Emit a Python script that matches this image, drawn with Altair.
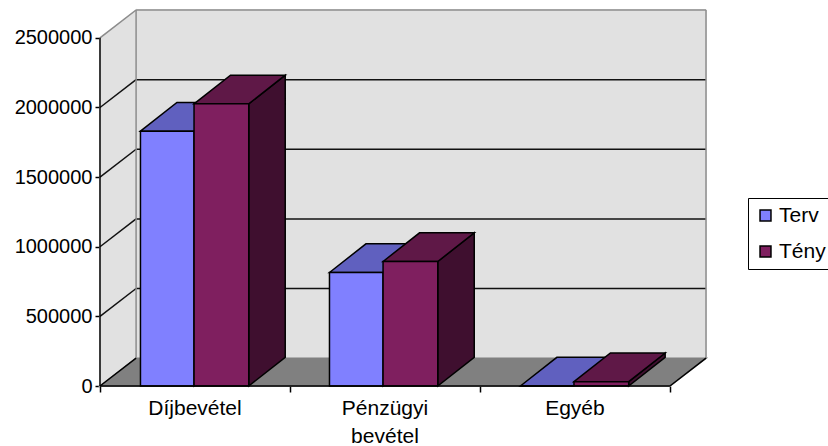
import altair as alt
import pandas as pd

# Chart values
CATEGORIES = ["Díjbevétel", "Pénzügyi\nbevétel", "Egyéb"]
SERIES = ["Terv", "Tény"]
TERV = [1830000, 815000, 0]
TENY = [2026000, 894000, 31000]
Y_TICKS = [0, 500000, 1000000, 1500000, 2000000, 2500000]

# Oblique projection offsets, in axis units
DEPTH_X = 0.19
DEPTH_V = 200000
BAR_DEPTH_X = 0.192
BAR_DEPTH_V = 206000
Y_MAX = 2500000
N = len(CATEGORIES)
BAR_WIDTH = {"Terv": 0.282, "Tény": 0.288}
BAR_MID = [0.495, 1.49, 2.495]

FRONT = {"Terv": "#8080FF", "Tény": "#7F1F5F"}
TOP = {"Terv": "#6060BF", "Tény": "#5F1847"}
SIDE = {"Terv": "#40407F", "Tény": "#3F0F2F"}
WALL = "#E1E1E1"
FLOOR = "#808080"
EDGE = "#8C8C8C"

faces, fronts, segments = [], [], []


def add_face(name, fill, stroke, pts):
    for x, top, bottom in pts:
        faces.append(dict(face=name, x=x, top=top, bottom=bottom, fill=fill, edge=stroke))


def add_segment(name, color, x0, y0, x1, y1):
    segments.append(dict(seg=name, x=x0, y=y0, stroke=color))
    segments.append(dict(seg=name, x=x1, y=y1, stroke=color))


# Box walls and floor
add_face("a_left", WALL, WALL, [(0, Y_MAX, 0), (DEPTH_X, Y_MAX + DEPTH_V, DEPTH_V)])
add_face("b_back", WALL, WALL, [(DEPTH_X, Y_MAX + DEPTH_V, DEPTH_V), (N + DEPTH_X, Y_MAX + DEPTH_V, DEPTH_V)])
add_face("c_floor", FLOOR, FLOOR, [(0, 0, 0), (DEPTH_X, DEPTH_V, 0), (N, DEPTH_V, 0), (N + DEPTH_X, DEPTH_V, DEPTH_V)])

# Bars: top and side faces here, front faces go to the rect layer
idx = 0
for i, mid in enumerate(BAR_MID):
    for name, vals, x0 in (("Terv", TERV, mid - BAR_WIDTH["Terv"]), ("Tény", TENY, mid)):
        x1 = x0 + BAR_WIDTH[name]
        v = vals[i]
        idx += 1
        key = f"d{idx:02d}"
        add_face(key + "_side", SIDE[name], "black",
                 [(x1, v, 0), (x1 + BAR_DEPTH_X, v + BAR_DEPTH_V, BAR_DEPTH_V)])
        add_face(key + "_top", TOP[name], "black",
                 [(x0, v, v), (x0 + BAR_DEPTH_X, v + BAR_DEPTH_V, v),
                  (x1, v + BAR_DEPTH_V, v), (x1 + BAR_DEPTH_X, v + BAR_DEPTH_V, v + BAR_DEPTH_V)])
        fronts.append(dict(series=name, x=x0, x2=x1, y=0, y2=v))

# Grid lines on the left and back walls
for t in Y_TICKS[1:-1]:
    add_segment(f"g{t}l", "#111111", 0, t, DEPTH_X, t + DEPTH_V)
    add_segment(f"g{t}b", "#111111", DEPTH_X, t + DEPTH_V, N + DEPTH_X, t + DEPTH_V)

# Box edges
add_segment("e1", EDGE, 0, Y_MAX, DEPTH_X, Y_MAX + DEPTH_V)
add_segment("e2", EDGE, DEPTH_X, Y_MAX + DEPTH_V, N + DEPTH_X, Y_MAX + DEPTH_V)
add_segment("e3", EDGE, DEPTH_X, DEPTH_V, DEPTH_X, Y_MAX + DEPTH_V)
add_segment("e4", EDGE, N + DEPTH_X, DEPTH_V, N + DEPTH_X, Y_MAX + DEPTH_V)

# Front axis lines and floor edges
axis_lines = []
for name, x0, y0, x1, y1 in [("a1", 0, 0, 0, Y_MAX), ("a2", 0, 0, N, 0),
                             ("a3", N, 0, N + DEPTH_X, DEPTH_V), ("a4", 0, 0, DEPTH_X, DEPTH_V)]:
    axis_lines += [dict(seg=name, x=x0, y=y0), dict(seg=name, x=x1, y=y1)]

labels = [dict(x=i + 0.5, text=c.split("\n")) for i, c in enumerate(CATEGORIES)]

faces_df = pd.DataFrame(faces)
fronts_df = pd.DataFrame(fronts)
seg_df = pd.DataFrame(segments)
axis_df = pd.DataFrame(axis_lines)
labels_df = pd.DataFrame(labels)

FONT = "Liberation Sans"
PX_PER_UNIT = 190
WIDTH = int((N + DEPTH_X) * PX_PER_UNIT)
HEIGHT = 376

x_scale = alt.Scale(domain=[0, N + DEPTH_X], nice=False, zero=False)
y_scale = alt.Scale(domain=[0, Y_MAX + DEPTH_V], nice=False)

x_axis = alt.Axis(values=list(range(N + 1)), labels=False, grid=False, domain=False,
                  tickSize=6, tickColor="black", tickWidth=1.5, title=None)
y_axis = alt.Axis(values=Y_TICKS, grid=False, domain=False, tickSize=5, tickColor="black", tickWidth=1.5,
                  labelFont=FONT, labelFontSize=20, labelColor="black", labelPadding=3, format="d", title=None)


def X():
    return alt.X("x:Q", scale=x_scale, axis=x_axis)


def Y(field):
    return alt.Y(field, scale=y_scale, axis=y_axis)


faces_layer = alt.Chart(faces_df).mark_area(orient="vertical", strokeWidth=1.5, strokeJoin="miter").encode(
    x=X(),
    y=Y("top:Q"),
    y2="bottom:Q",
    detail="face:N",
    fill=alt.Fill("fill:N", scale=None),
    stroke=alt.Stroke("edge:N", scale=None),
)

grid_layer = alt.Chart(seg_df).mark_line(strokeWidth=1.5).encode(
    x=X(),
    y=Y("y:Q"),
    detail="seg:N",
    stroke=alt.Stroke("stroke:N", scale=None),
)

# Background and floor are drawn first, then grid, then the bar faces
back_layer = faces_layer.transform_filter("indexof(['a_left','b_back','c_floor'], datum.face) >= 0")
bars_layer = faces_layer.transform_filter("indexof(['a_left','b_back','c_floor'], datum.face) < 0")

front_layer = alt.Chart(fronts_df).mark_rect(stroke="black", strokeWidth=1.5).encode(
    x=X(),
    x2="x2:Q",
    y=Y("y:Q"),
    y2="y2:Q",
    color=alt.Color("series:N",
                    scale=alt.Scale(domain=SERIES, range=[FRONT[s] for s in SERIES]),
                    legend=alt.Legend(title=None, orient="none", legendX=648, legendY=188,
                                      symbolType="square", symbolSize=120,
                                      symbolStrokeColor="black", symbolStrokeWidth=1.5,
                                      labelFont=FONT, labelFontSize=21, labelColor="black",
                                      labelOffset=3, rowPadding=14, padding=7,
                                      strokeColor="black", fillColor="white")),
)

axis_layer = alt.Chart(axis_df).mark_line(color="black", strokeWidth=1.5).encode(
    x=X(),
    y=Y("y:Q"),
    detail="seg:N",
)

label_layer = alt.Chart(labels_df).mark_text(
    font=FONT, fontSize=21, color="black", baseline="top", lineHeight=28, align="center",
).encode(
    x=X(),
    y=alt.value(HEIGHT + 12),
    text="text:N",
)

chart = alt.layer(back_layer, grid_layer, bars_layer, front_layer, axis_layer, label_layer).properties(
    width=WIDTH,
    height=HEIGHT,
    padding={"left": 100, "top": 10, "right": 122, "bottom": 60},
    autosize=alt.AutoSizeParams(type="none"),
).configure_view(stroke=None)

chart.save("out.html", embed_options={"renderer": "svg", "actions": False})
